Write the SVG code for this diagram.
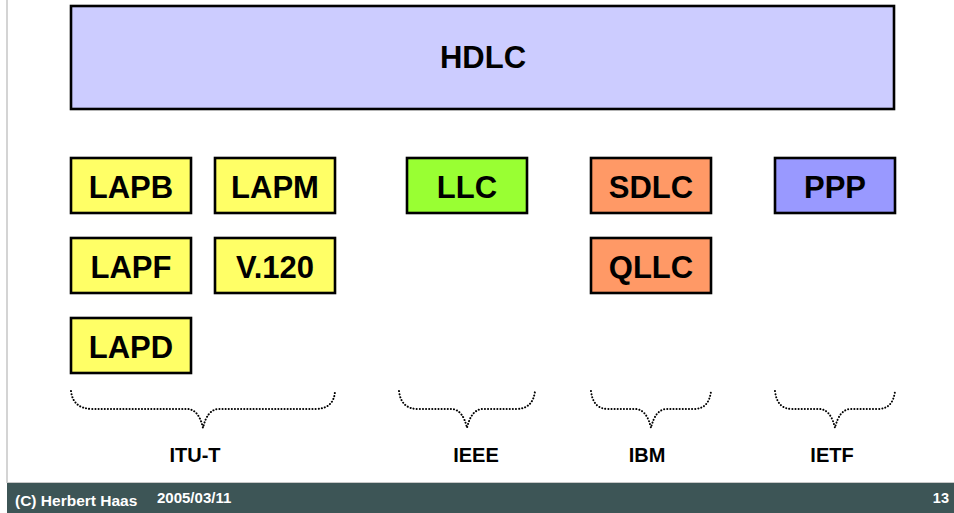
<svg xmlns="http://www.w3.org/2000/svg" width="954" height="513" viewBox="0 0 954 513">
<style>
.box{stroke:#000;stroke-width:2.6}
.t{font-family:"Liberation Sans",Arial,sans-serif;font-weight:bold;font-size:31px;fill:#000;text-anchor:middle}
.lbl{font-family:"Liberation Sans",Arial,sans-serif;font-weight:bold;font-size:20px;fill:#000;text-anchor:middle}
.ft{font-family:"Liberation Sans",Arial,sans-serif;font-weight:bold;fill:#fff}
.brace{fill:none;stroke:#000;stroke-width:2;stroke-linecap:round;stroke-dasharray:0.1 3}
.yel{fill:#ffff66}
</style>
<rect x="0" y="0" width="954" height="513" fill="#fff"/>
<line x1="7" y1="0" x2="7" y2="483" stroke="#d4d4d4" stroke-width="2"/>
<g id="hdlc"><rect class="box" x="71" y="6" width="823" height="103" fill="#ccccff"/><text class="t" x="483" y="68">HDLC</text></g>
<g id="lapb"><rect class="box yel" x="71" y="158" width="120" height="55"/><text class="t" x="131" y="198">LAPB</text></g>
<g id="lapm"><rect class="box yel" x="215" y="158" width="120" height="55"/><text class="t" x="275" y="198">LAPM</text></g>
<g id="lapf"><rect class="box yel" x="71" y="238" width="120" height="55"/><text class="t" x="131" y="278">LAPF</text></g>
<g id="v120"><rect class="box yel" x="215" y="238" width="120" height="55"/><text class="t" x="275" y="278">V.120</text></g>
<g id="lapd"><rect class="box yel" x="71" y="318" width="120" height="55"/><text class="t" x="131" y="358">LAPD</text></g>
<g id="llc"><rect class="box" x="407" y="158" width="120" height="55" fill="#99ff33"/><text class="t" x="467" y="198">LLC</text></g>
<g id="sdlc"><rect class="box" x="591" y="158" width="120" height="55" fill="#ff9966"/><text class="t" x="651" y="198">SDLC</text></g>
<g id="qllc"><rect class="box" x="591" y="238" width="120" height="55" fill="#ff9966"/><text class="t" x="651" y="278">QLLC</text></g>
<g id="ppp"><rect class="box" x="775" y="158" width="120" height="55" fill="#9999ff"/><text class="t" x="835" y="198">PPP</text></g>
<g id="braces">
<path class="brace" d="M71,391 Q73,409 93,409 L188,409 Q199,410 203,428 Q207,410 218,409 L315,409 Q334,409 335,391"/>
<path class="brace" d="M399,391 Q401,409 418,409 L452,409 Q463,410 467,428 Q471,410 482,409 L516,409 Q533,409 535,391"/>
<path class="brace" d="M591,391 Q593,409 608,409 L636,409 Q647,410 651,428 Q655,410 666,409 L694,409 Q709,409 711,391"/>
<path class="brace" d="M775,391 Q777,409 792,409 L820,409 Q831,410 835,428 Q839,410 850,409 L878,409 Q893,409 895,391"/>
</g>
<g id="labels">
<text class="lbl" x="195" y="462">ITU-T</text>
<text class="lbl" x="476" y="462">IEEE</text>
<text class="lbl" x="647" y="462">IBM</text>
<text class="lbl" x="832" y="462">IETF</text>
</g>
<g id="footer">
<rect x="7" y="483" width="947" height="30" fill="#3d5556"/>
<line x1="7" y1="482.5" x2="954" y2="482.5" stroke="#c8c8c8" stroke-width="1"/>
<text class="ft" x="15" y="506" font-size="15.5">(C) Herbert Haas</text>
<text class="ft" x="157" y="503" font-size="15">2005/03/11</text>
<text class="ft" x="949" y="503" font-size="14.5" text-anchor="end">13</text>
</g>
</svg>
